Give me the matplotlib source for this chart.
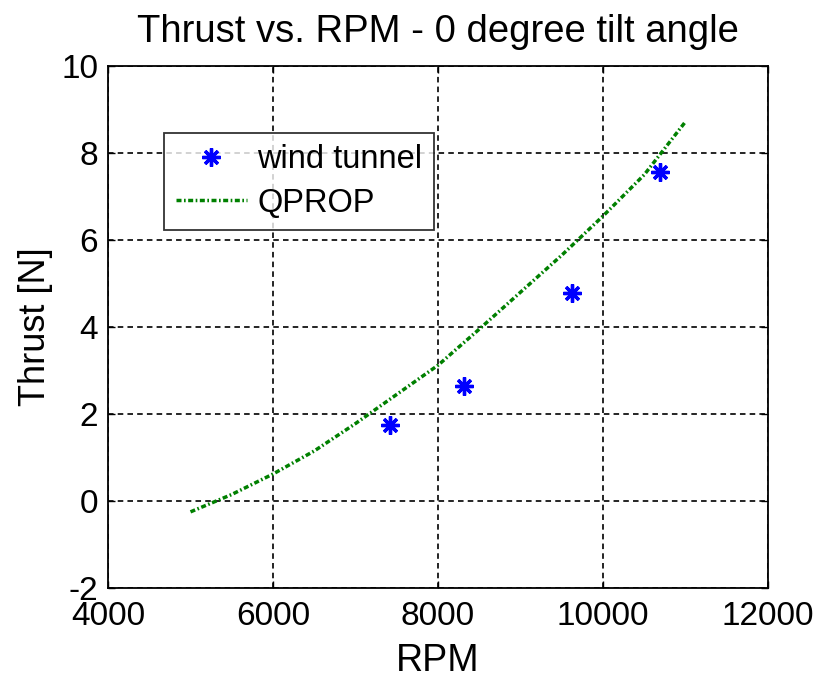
import numpy as np
import matplotlib
matplotlib.use('Agg')
import matplotlib.pyplot as plt

# wind tunnel measurements
rpm_wt = [7418, 8315, 9624, 10691]
thrust_wt = [1.75, 2.64, 4.78, 7.55]

# QPROP prediction
rpm_qp = [5000, 5500, 6000, 6500, 7000, 7500, 8000, 8500, 9000, 9500, 10000, 10500, 11000]
thrust_qp = [-0.25, 0.15, 0.62, 1.15, 1.78, 2.45, 3.12, 3.95, 4.8, 5.65, 6.55, 7.5, 8.72]

xticks = [4000, 6000, 8000, 10000, 12000]
yticks = [-2, 0, 2, 4, 6, 8, 10]

plt.rcParams['font.family'] = ['Liberation Sans', 'DejaVu Sans']
plt.rcParams['lines.scale_dashes'] = False
plt.rcParams['axes.unicode_minus'] = False

fig = plt.figure(figsize=(8.2, 6.79), dpi=100)
ax = fig.add_axes([0.1317, 0.134, 0.805, 0.769])

ax.plot(rpm_wt, thrust_wt, linestyle='none', marker=(8, 2, 0), markersize=13,
        markeredgewidth=2.4, color='#0000ff', label='wind tunnel')
ln, = ax.plot(rpm_qp, thrust_qp, color='#008000', linewidth=2.5, label='QPROP')
ln.set_dashes([3.6, 1.8, 1.2, 1.8])

ax.set_xlim(4000, 12000)
ax.set_ylim(-2, 10)
ax.set_xticks(xticks)
ax.set_yticks(yticks)
ax.grid(True, color='black', linestyle=(0, (4, 3)), linewidth=1.2)
ax.tick_params(direction='in', top=True, right=True, length=5, width=1,
               labelsize=24)
ax.tick_params(axis='x', pad=9)
ax.tick_params(axis='y', pad=7)
for s in ax.spines.values():
    s.set_linewidth(1.3)

ax.set_title('Thrust vs. RPM - 0 degree tilt angle', fontsize=27.5, pad=17)
ax.set_xlabel('RPM', fontsize=27, labelpad=8)
ax.set_ylabel('Thrust [N]', fontsize=26, labelpad=6)

leg = ax.legend(loc='upper left', bbox_to_anchor=(0.085, 0.872), borderaxespad=0,
                fontsize=23.5, frameon=True, fancybox=False, edgecolor='black',
                borderpad=0.35, handlelength=2.2, handletextpad=0.3,
                labelspacing=0.38)
leg.get_frame().set_linewidth(1.3)

fig.savefig('out.png', dpi=100)
